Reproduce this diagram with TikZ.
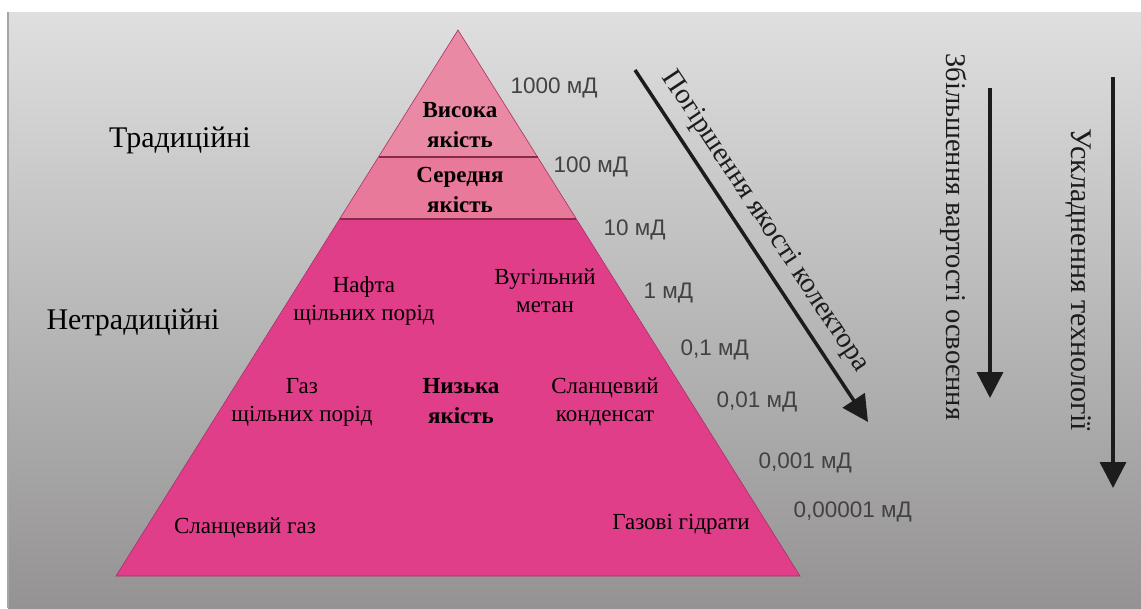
\documentclass[tikz,border=0pt]{standalone}
\usepackage{fontspec}
\setmainfont{Liberation Serif}
\setsansfont{Liberation Sans}
\usetikzlibrary{arrows.meta}

\definecolor{bgtop}{RGB}{223,223,223}
\definecolor{bgbot}{RGB}{148,146,146}
\definecolor{pinkhigh}{RGB}{234,137,163}
\definecolor{pinkmid}{RGB}{233,121,154}
\definecolor{pinklow}{RGB}{225,62,137}
\definecolor{layerline}{RGB}{135,42,72}
\definecolor{mdgray}{RGB}{66,66,66}
\definecolor{arrowblack}{RGB}{28,28,28}

\begin{document}
\begin{tikzpicture}[x=1pt, y=-1pt,
    bigtext/.style={font=\fontsize{30}{32}\selectfont},
    sidetext/.style={font=\fontsize{28.5}{32}\selectfont},
    intext/.style={font=\fontsize{23}{28}\selectfont, align=center},
    qualtext/.style={font=\fontsize{23}{30}\selectfont\bfseries, align=center},
    perm/.style={font=\sffamily\fontsize{22.5}{24}\selectfont, text=mdgray, anchor=west},
    bigarrow/.style={arrowblack, line width=3.5pt, -{Triangle[width=26pt,length=26pt]}}]
  \useasboundingbox (0,0) rectangle (1141,608);
  \shade[top color=bgtop, bottom color=bgbot] (8,12) rectangle (1141,608);
  \draw[gray!70, line width=1.2pt] (8,608) -- (8,12);

  % pyramid
  \coordinate (apex) at (458,30);
  \coordinate (l1) at (378.5,157);
  \coordinate (r1) at (537.5,157);
  \coordinate (l2) at (339.7,219);
  \coordinate (r2) at (576.3,219);
  \coordinate (bl) at (116,576);
  \coordinate (br) at (800,576);
  \fill[pinkhigh] (apex) -- (l1) -- (r1) -- cycle;
  \fill[pinkmid] (l1) -- (l2) -- (r2) -- (r1) -- cycle;
  \fill[pinklow] (l2) -- (bl) -- (br) -- (r2) -- cycle;
  \draw[pinklow!75!black, line width=0.6pt] (apex) -- (bl) -- (br) -- cycle;
  \draw[layerline, line width=1.6pt] (l1) -- (r1);
  \draw[layerline, line width=1.6pt] (l2) -- (r2);

  \node[bigtext] (trad) at (180,140) {Традиційні};
  \node[bigtext] (netrad) at (133,322) {Нетрадиційні};

  \node[qualtext] (high) at (460,125) {Висока\\якість};
  \node[qualtext] (mid) at (460,190) {Середня\\якість};
  \node[qualtext] (low) at (461,401) {Низька\\якість};

  \node[intext] (oil) at (364,301) {Нафта\\щільних порід};
  \node[intext] (cbm) at (545,291) {Вугільний\\метан};
  \node[intext] (tgas) at (302,402) {Газ\\щільних порід};
  \node[intext] (cond) at (605,402) {Сланцевий\\конденсат};
  \node[intext] (sgas) at (245,528) {Сланцевий газ};
  \node[intext] (hydr) at (681,524) {Газові гідрати};

  % permeability scale
  \foreach \x/\y/\v [count=\i] in {507/88/1000, 550/167/100, 600/230/10, 640/293/1,
      677/350/{0,1}, 713/402/{0,01}, 755/463/{0,001}, 790/512/{0,00001}}
    \node[perm] (p\i) at (\x,\y) {\v~мД};

  % arrows
  \coordinate (qs) at (635,70);
  \coordinate (qe) at (868,422);
  \draw[bigarrow] (qs) -- node[sidetext, sloped, above=7pt, pos=0.47] (qlabel) {Погіршення якості колектора} (qe);

  \coordinate (cs) at (990,88);
  \coordinate (ce) at (990,398);
  \draw[bigarrow] (cs) -- node[sidetext, sloped, below=18pt, pos=0.48] (clabel) {Збільшення вартості освоєння} (ce);

  \coordinate (ts) at (1113,77);
  \coordinate (te) at (1113,488);
  \draw[bigarrow] (ts) -- node[bigtext, sloped, below=17pt, pos=0.494] (tlabel) {Ускладнення технології} (te);
\end{tikzpicture}
\end{document}
